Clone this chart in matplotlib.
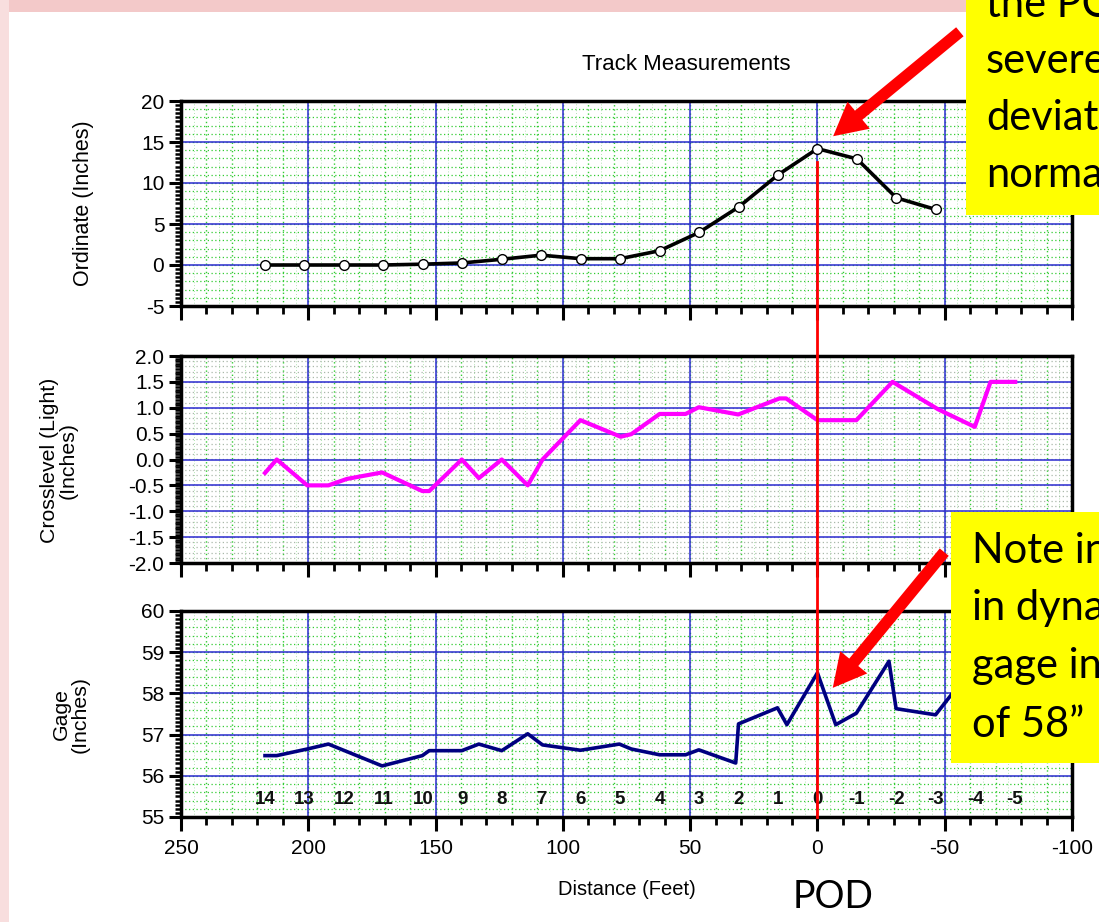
import numpy as np
import matplotlib
matplotlib.use("Agg")
import matplotlib.pyplot as plt
import matplotlib.transforms as mtransforms
from matplotlib.patches import Rectangle, FancyArrowPatch
from matplotlib.lines import Line2D
from matplotlib.ticker import MultipleLocator, FormatStrFormatter

plt.rcParams['font.family'] = ['Liberation Sans', 'DejaVu Sans']
plt.rcParams['axes.unicode_minus'] = False

# stations (62 ft chord, 15.5 ft spacing) and their distance in feet
stations = ['14', '13', '12', '11', '10', '9', '8', '7', '6', '5', '4', '3', '2', '1', '0',
            '-1', '-2', '-3', '-4', '-5']
station_ft = [217, 201.5, 186, 170.5, 155, 139.5, 124, 108.5, 93, 77.5, 62, 46.5, 31, 15.5, 0,
              -15.5, -31, -46.5, -62, -77.5]

# ordinate (inches) at stations 14 .. -3
ord_ft = [217, 201.5, 186, 170.5, 155, 139.5, 124, 108.5, 93, 77.5, 62, 46.5, 31, 15.5, 0,
          -15.5, -31, -46.5]
ord_in = [0.0, 0.0, 0.0, 0.0, 0.1, 0.25, 0.7, 1.2, 0.77, 0.77, 1.74, 3.97, 7.06, 10.99, 14.19,
          12.94, 8.19, 6.77]

# crosslevel (light)
cl_ft = [217, 212.4, 200.4, 192.1, 184.8, 171, 155.2, 152.5, 139.7, 133, 124, 113.8, 108,
         93.1, 77.3, 73.1, 62, 51.8, 46.6, 31.1, 14.9, 12.3, 0, -15.3, -29.5, -47.4, -61.8,
         -68, -77.7]
cl_in = [-0.26, 0.0, -0.5, -0.5, -0.375, -0.25, -0.61, -0.61, 0.0, -0.36, 0.0, -0.5, 0.0,
         0.76, 0.44, 0.49, 0.88, 0.88, 1.01, 0.87, 1.18, 1.18, 0.76, 0.76, 1.5, 0.97, 0.63,
         1.5, 1.5]

# gage
g_ft = [217, 212.4, 200.4, 192.1, 171, 155.2, 152.5, 139.7, 133, 124, 113.8, 108, 93.1,
        77.8, 73.1, 62, 51.8, 46.6, 32.1, 31.0, 15.7, 12.0, 0, -7.2, -15.3, -28.1, -30.9,
        -46.4, -53]
g_in = [56.49, 56.49, 56.65, 56.77, 56.24, 56.49, 56.61, 56.61, 56.77, 56.61, 57.02, 56.75,
        56.62, 56.77, 56.65, 56.51, 56.51, 56.63, 56.31, 57.26, 57.65, 57.24, 58.5, 57.24,
        57.52, 58.78, 57.63, 57.48, 58.0]

W, H = 1099, 922
fig = plt.figure(figsize=(W / 100, H / 100), dpi=100)
fig.patch.set_facecolor('white')


def fx(px):
    return px / W


def fy(py):
    return 1 - py / H


left, right = 181, 1072
ax1 = fig.add_axes([fx(left), fy(306), fx(right - left), (306 - 101) / H])
ax2 = fig.add_axes([fx(left), fy(563), fx(right - left), (563 - 356) / H])
ax3 = fig.add_axes([fx(left), fy(817), fx(right - left), (817 - 611) / H])


def style(ax, ylo, yhi, ymaj, ytick_minor, ygrid, hcolor):
    ax.set_xlim(250, -100)
    ax.set_ylim(ylo, yhi)
    ax.xaxis.set_major_locator(MultipleLocator(50))
    ax.xaxis.set_minor_locator(MultipleLocator(10))
    ax.yaxis.set_major_locator(MultipleLocator(ymaj))
    ax.yaxis.set_minor_locator(MultipleLocator(ytick_minor))
    for x in np.arange(-100, 251, 10):
        ax.axvline(x, color='#33cc33', lw=1.0, ls=(0, (1, 2)), zorder=0.3)
    for x in np.arange(-95, 251, 10):
        ax.axvline(x, color='#99dd99', lw=0.6, ls=(0, (1, 2.5)), zorder=0.2)
    for y in np.arange(ylo, yhi + 1e-9, ygrid):
        ax.axhline(y, color=hcolor, lw=0.9, ls=(0, (1, 2)), zorder=0.3)
    ax.grid(which='major', color='#2b2bd0', lw=1.1, ls='-', zorder=0.4)
    ax.set_axisbelow(True)
    ax.tick_params(axis='x', which='major', direction='out', length=10, width=2.2,
                   labelsize=15, pad=6, top=False)
    ax.tick_params(axis='x', which='minor', direction='out', length=5.5, width=2, top=False)
    ax.tick_params(axis='y', which='major', direction='out', length=9, width=2.2,
                   labelsize=15, pad=3, right=False)
    ax.tick_params(axis='y', which='minor', direction='out', length=4.5, width=1.8,
                   right=False)
    for s in ax.spines.values():
        s.set_linewidth(2.5)


style(ax1, -5, 20, 5, 0.5, 1, '#33cc33')
style(ax2, -2, 2, 0.5, 0.05, 0.1, '#aab8aa')
style(ax3, 55, 60, 1, 0.1, 0.2, '#33cc33')
ax2.yaxis.set_major_formatter(FormatStrFormatter('%.1f'))
ax1.tick_params(axis='x', labelbottom=False)
ax2.tick_params(axis='x', labelbottom=False)

ax1.plot(ord_ft, ord_in, color='black', lw=2.6, marker='o', ms=7, mfc='white',
         mec='black', mew=1.0, zorder=3)
ax2.plot(cl_ft, cl_in, color='#ff00ff', lw=3, zorder=3)
ax3.plot(g_ft, g_in, color='#000080', lw=2.6, zorder=3)

for lab, x in zip(stations, station_ft):
    ax3.text(x, 55.42, lab, ha='center', va='center', fontsize=13.5, fontweight='bold',
             color='#111111', zorder=4)

# axis labels and title
fig.text(fx(686), fy(65), 'Track Measurements', ha='center', va='center', fontsize=16)
fig.text(fx(84), fy(203), 'Ordinate (Inches)', rotation=90, ha='center', va='center',
         fontsize=15.5)
fig.text(fx(59), fy(460), 'Crosslevel (Light)\n(Inches)', rotation=90, ha='center',
         va='center', fontsize=15.3, linespacing=1.0)
fig.text(fx(71), fy(714), 'Gage\n(Inches)', rotation=90, ha='center', va='center',
         fontsize=15.3, linespacing=1.0)
fig.text(fx(627), fy(889), 'Distance (Feet)', ha='center', va='center', fontsize=14.5)
fig.text(fx(833), fy(897), 'POD', ha='center', va='center', fontsize=27,
         family=['Lato', 'DejaVu Sans'])

# red POD line through all panels
trans = mtransforms.blended_transform_factory(ax3.transData, fig.transFigure)
fig.add_artist(Line2D([0, 0], [fy(162), fy(817)], transform=trans, color='red', lw=2,
                      zorder=3.5))

# slide frame
fig.add_artist(Rectangle((0, fy(12)), 1, 12 / H, transform=fig.transFigure,
                         facecolor='#f3c9c9', edgecolor='none', zorder=0))
fig.add_artist(Rectangle((0, 0), 9 / W, 1, transform=fig.transFigure,
                         facecolor='#f8dede', edgecolor='none', zorder=0))

# callout boxes (cropped at the right edge of the slide, as in the source)
fig.add_artist(Rectangle((fx(966), fy(215)), 1, 215 / H, transform=fig.transFigure,
                         facecolor='#ffff00', edgecolor='none', zorder=5))
fig.add_artist(Rectangle((fx(951), fy(763)), 1, (763 - 512) / H, transform=fig.transFigure,
                         facecolor='#ffff00', edgecolor='none', zorder=5))

box1_lines = ['the POD shows', 'severe', 'deviation', 'normal']
box1_base = [17, 73, 130, 187]
for t, b in zip(box1_lines, box1_base):
    fig.text(fx(986), fy(b), t, ha='left', va='baseline', fontsize=30,
             family=['Lato', 'DejaVu Sans'], zorder=6)

box2_lines = ['Note increase', 'in dynamic', 'gage in excess', 'of 58\u201d']
box2_base = [563, 620, 678, 737]
for t, b in zip(box2_lines, box2_base):
    fig.text(fx(972), fy(b), t, ha='left', va='baseline', fontsize=30,
             family=['Lato', 'DejaVu Sans'], zorder=6)

# red arrows
for (x0, y0), (x1, y1) in [((962, 30), (831, 138)), ((946, 550), (831, 690))]:
    fig.add_artist(FancyArrowPatch((fx(x0), fy(y0)), (fx(x1), fy(y1)),
                                   transform=fig.transFigure,
                                   arrowstyle='simple,head_length=1.7,head_width=1.8,tail_width=0.6',
                                   mutation_scale=14, color='#ff0000', lw=0, zorder=6))

fig.savefig('out.png', dpi=100)
